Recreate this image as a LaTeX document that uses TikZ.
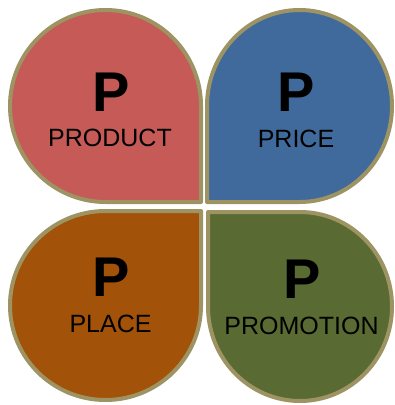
\documentclass[tikz,border=0pt]{standalone}
\usepackage{fontspec}
\setmainfont{Liberation Sans}
\definecolor{leafborder}{RGB}{158,147,98}
\definecolor{leafred}{RGB}{197,90,87}
\definecolor{leafblue}{RGB}{64,106,155}
\definecolor{leafbrown}{RGB}{163,82,9}
\definecolor{leafgreen}{RGB}{89,107,50}
\begin{document}
\begin{tikzpicture}[x=1pt,y=-1pt,
  leaf/.style={draw=leafborder,line width=4pt,line join=round},
  bigp/.style={font=\fontsize{56}{56}\selectfont\bfseries,inner sep=0pt,text=black},
  word/.style={font=\fontsize{25}{25}\selectfont,inner sep=0pt,text=black}]
\useasboundingbox[fill=white] (0,0) rectangle (395,405);
% top-left (corner bottom-right)
\draw[leaf,fill=leafred] (201,106) -- (201,202) -- (105.5,202)
  arc[start angle=90,end angle=270,x radius=95.5,y radius=96]
  arc[start angle=270,end angle=360,x radius=95.5,y radius=96] -- cycle;
% top-right (corner bottom-left)
\draw[leaf,fill=leafblue] (207,106) -- (207,202) -- (299.5,202)
  arc[start angle=90,end angle=-180,x radius=92.5,y radius=96] -- cycle;
% bottom-left (corner top-right)
\draw[leaf,fill=leafbrown] (201,305.5) -- (201,211) -- (105.5,211)
  arc[start angle=270,end angle=0,x radius=95.5,y radius=94.5] -- cycle;
% bottom-right (corner top-left)
\draw[leaf,fill=leafgreen] (208,306.5) -- (208,212) -- (300,212)
  arc[start angle=270,end angle=540,x radius=92,y radius=94.5] -- cycle;
\node[bigp] (p1) at (111,92) {P};
\node[word] (w1) at (110,137.5) {PRODUCT};
\node[bigp] (p2) at (296,92) {P};
\node[word] (w2) at (296,139) {PRICE};
\node[bigp] (p3) at (111,277.5) {P};
\node[word] (w3) at (110.5,324) {PLACE};
\node[bigp] (p4) at (302,279) {P};
\node[word] (w4) at (301.5,325.5) {PROMOTION};
\end{tikzpicture}
\end{document}
